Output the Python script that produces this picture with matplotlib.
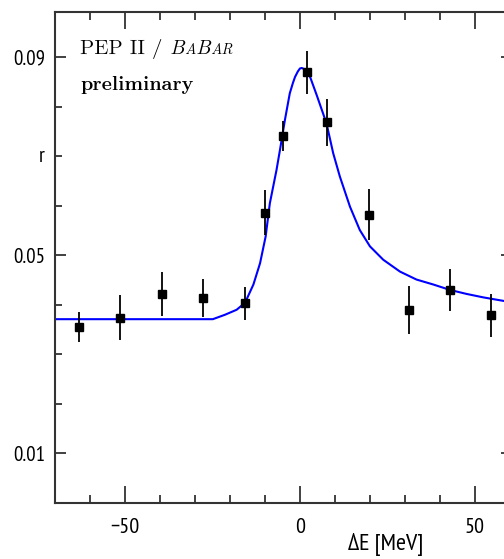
import matplotlib
matplotlib.use("Agg")
import matplotlib.pyplot as plt
from matplotlib.ticker import FixedLocator, MultipleLocator

# data points
dE = [-63.1, -51.4, -39.5, -27.6, -15.7, -10.0, -4.9, 2.0, 7.7, 19.7, 31.2, 42.8, 54.7]
r_val = [0.0355, 0.0374, 0.0422, 0.0414, 0.0403, 0.0586, 0.0741, 0.0869, 0.0768, 0.0582, 0.0390, 0.0430, 0.0379]
r_err = [0.0031, 0.0045, 0.0045, 0.0039, 0.0033, 0.0045, 0.0030, 0.0044, 0.0048, 0.0051, 0.0048, 0.0043, 0.0043]

# fitted curve
fit_x = [-70.0, -24.9, -21.4, -18.1, -15.7, -13.3, -11.4, -9.8, -8.6, -6.7, -5.7, -4.3, -2.9,
         -2.0, -1.4, -0.6, 0.0, 0.5, 1.2, 2.0, 2.9, 4.8, 7.6, 9.5, 11.4, 14.3, 17.1, 20.0, 23.8,
         28.6, 33.3, 38.1, 42.9, 47.6, 52.4, 58.1, 61.0]
fit_y = [0.0371, 0.0371, 0.0380, 0.0390, 0.0404, 0.0441, 0.0484, 0.0538, 0.0605, 0.0672, 0.0713,
         0.0773, 0.0827, 0.0848, 0.0860, 0.0871, 0.0877, 0.0878, 0.0876, 0.0870, 0.0860, 0.0823,
         0.0766, 0.0706, 0.0659, 0.0598, 0.0551, 0.0518, 0.0491, 0.0467, 0.0451, 0.0441, 0.0430,
         0.0422, 0.0415, 0.0408, 0.0405]

x_major = [-50, 0, 50]
x_labels = ["\u221250", "0", "50"]
y_major = [0.01, 0.05, 0.09]
y_labels = ["0.01", "0.05", "0.09"]

W, H = 504, 559
fig = plt.figure(figsize=(W / 100, H / 100), dpi=100)
ax = fig.add_axes([55 / W, 56 / H, (512 - 55) / W, (547.5 - 56) / H])

ax.plot(fit_x, fit_y, color="#0000ff", lw=1.5, zorder=2)
ax.errorbar(dE, r_val, yerr=r_err, fmt="s", color="black", ms=6, elinewidth=1.3,
            capsize=0, zorder=3)

ax.set_xlim(-70, 60.6)
ax.set_ylim(0, 0.0992)

narrow = ["PT Sans Narrow", "Roboto Condensed", "DejaVu Sans"]
ytick_font = dict(family=narrow, size=15)
xtick_font = dict(family=narrow, size=16)

ax.xaxis.set_major_locator(FixedLocator(x_major))
ax.xaxis.set_minor_locator(MultipleLocator(10))
ax.yaxis.set_major_locator(FixedLocator(y_major))
ax.yaxis.set_minor_locator(MultipleLocator(0.01))
ax.set_yticklabels(y_labels, fontdict=ytick_font)
ax.set_xticklabels(x_labels, fontdict=xtick_font)

ax.tick_params(which="both", direction="in", top=True, right=True, color="#333333")
ax.tick_params(axis="x", which="major", length=12, width=1.3, pad=10.5)
ax.tick_params(axis="x", which="minor", length=6, width=1.3)
ax.tick_params(axis="y", which="major", length=8, width=1.3, pad=7)
ax.tick_params(axis="y", which="minor", length=5, width=1.3)

for s in ax.spines.values():
    s.set_linewidth(1.5)
    s.set_color("#333333")

ax.text(-0.022, 0.07, "r", transform=ax.get_yaxis_transform(), ha="right", va="center",
        fontdict=ytick_font)
ax.text(24.6, -0.0084, "\u0394E [MeV]", ha="center", va="center",
        fontdict=dict(family=narrow, size=17.5))

# PEP II / BaBar label
fig.canvas.draw()
renderer = fig.canvas.get_renderer()
serif = ["Latin Modern Roman", "cmr10", "DejaVu Serif"]
x0_px, base_px = 80, H - 54
pieces = [("PEP II / ", "normal", 15), ("B", "italic", 15), ("A", "italic", 11),
          ("B", "italic", 15), ("AR", "italic", 11)]
xp = x0_px
for txt, style, sz in pieces:
    t = fig.text(xp / W, base_px / H, txt, family=serif, style=style, size=sz,
                 va="baseline", ha="left")
    bb = t.get_window_extent(renderer=renderer)
    xp = bb.x1
fig.text(80 / W, (H - 90) / H, "preliminary", family=serif, weight="bold", size=14,
         va="baseline", ha="left")

fig.savefig("out.png", dpi=100)
